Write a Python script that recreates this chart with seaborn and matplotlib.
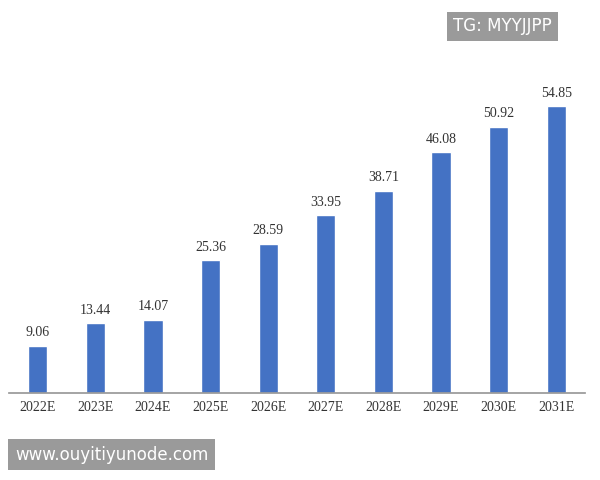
import matplotlib
matplotlib.use("Agg")
import matplotlib.pyplot as plt
import seaborn as sns
import pandas as pd

years = ["2022E","2023E","2024E","2025E","2026E","2027E","2028E","2029E","2030E","2031E"]
values = [9.06,13.44,14.07,25.36,28.59,33.95,38.71,46.08,50.92,54.85]

sns.set_theme(style="white")
plt.rcParams['font.family'] = ['Liberation Serif', 'DejaVu Serif']
df = pd.DataFrame({"year": years, "value": values})

fig = plt.figure(figsize=(6, 4.8), dpi=100)
ax = fig.add_axes([0.015, 0.181, 0.96, 0.654])
sns.barplot(data=df, x="year", y="value", color="#4472C4", width=0.33, saturation=1, ax=ax)
ax.set_ylim(0, 60)
ax.set_xlabel(""); ax.set_ylabel("")
ax.set_yticks([])
for s in ["top", "left", "right"]:
    ax.spines[s].set_visible(False)
ax.spines["bottom"].set_color("#999999")
ax.tick_params(axis="x", labelsize=10, colors="#333333", length=0, pad=6)
for i, v in enumerate(values):
    ax.text(i, v + 1.2, f"{v:.2f}", ha="center", va="bottom", fontsize=10, color="#333333")

fig.text(0.755, 0.945, "TG: MYYJJPP", fontsize=12, color="white", family="DejaVu Sans",
         ha="left", va="center",
         bbox=dict(boxstyle="square,pad=0.35", fc="#9a9a9a", ec="none"))
fig.text(0.025, 0.053, "www.ouyitiyunode.com", fontsize=12, color="white", family="DejaVu Sans",
         ha="left", va="center",
         bbox=dict(boxstyle="square,pad=0.4", fc="#9a9a9a", ec="none"))
fig.savefig("out.png", dpi=100)
